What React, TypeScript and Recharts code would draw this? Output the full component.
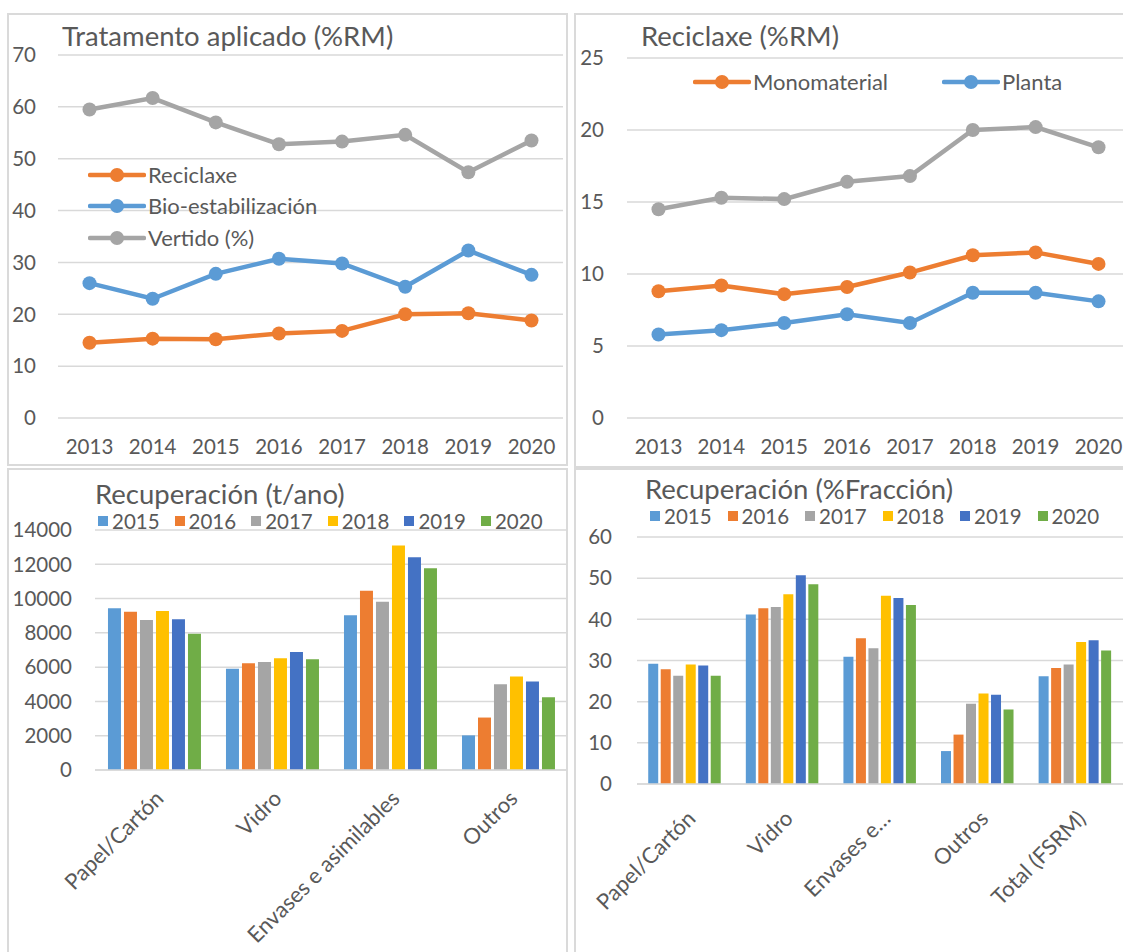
import React from 'react';
import { LineChart, Line, BarChart, Bar, XAxis, YAxis, CartesianGrid, Legend } from 'recharts';

const FONT = 'Lato, "Open Sans", sans-serif';
const TEXT = '#595959';
const GRID = '#D9D9D9';
const ORANGE = '#ED7D31';
const BLUE = '#5B9BD5';
const GREY = '#A5A5A5';

// Tratamento aplicado (%RM)
const years = ['2013', '2014', '2015', '2016', '2017', '2018', '2019', '2020'];
const reciclaxe = [14.5, 15.3, 15.2, 16.3, 16.8, 20.0, 20.2, 18.8];
const bioEstabilizacion = [26.0, 23.0, 27.8, 30.7, 29.8, 25.3, 32.3, 27.6];
const vertido = [59.5, 61.7, 57.0, 52.8, 53.3, 54.6, 47.4, 53.5];
const tratamentoTicks = [0, 10, 20, 30, 40, 50, 60, 70];

// Reciclaxe (%RM)
const reciclaxeTotal = [14.5, 15.3, 15.2, 16.4, 16.8, 20.0, 20.2, 18.8];
const monomaterial = [8.8, 9.2, 8.6, 9.1, 10.1, 11.3, 11.5, 10.7];
const planta = [5.8, 6.1, 6.6, 7.2, 6.6, 8.7, 8.7, 8.1];
const reciclaxeTicks = [0, 5, 10, 15, 20, 25];

// Recuperación
const barYears = ['2015', '2016', '2017', '2018', '2019', '2020'];
const yearColors = ['#5B9BD5', '#ED7D31', '#A5A5A5', '#FFC000', '#4472C4', '#70AD47'];
const fraccions = ['Papel/Cartón', 'Vidro', 'Envases e asimilables', 'Outros'];
const fraccionsPct = [...fraccions, 'Total (FSRM)'];

// t/ano, one array per year, same order as fraccions
const ton2015 = [9440, 5910, 9020, 2020];
const ton2016 = [9230, 6220, 10450, 3060];
const ton2017 = [8750, 6300, 9810, 5000];
const ton2018 = [9270, 6520, 13090, 5450];
const ton2019 = [8800, 6880, 12410, 5160];
const ton2020 = [7950, 6460, 11770, 4250];
const tonByYear = [ton2015, ton2016, ton2017, ton2018, ton2019, ton2020];
const tonTicks = [0, 2000, 4000, 6000, 8000, 10000, 12000, 14000];

// %Fracción, same order as fraccionsPct
const pct2015 = [29.2, 41.2, 30.9, 8.0, 26.2];
const pct2016 = [27.9, 42.7, 35.4, 12.0, 28.2];
const pct2017 = [26.3, 43.0, 33.0, 19.5, 29.0];
const pct2018 = [29.0, 46.1, 45.7, 22.0, 34.5];
const pct2019 = [28.8, 50.7, 45.2, 21.7, 34.9];
const pct2020 = [26.3, 48.5, 43.5, 18.1, 32.4];
const pctByYear = [pct2015, pct2016, pct2017, pct2018, pct2019, pct2020];
const pctTicks = [0, 10, 20, 30, 40, 50, 60];

const tratamentoData = years.map((year, i) => ({
  year,
  reciclaxe: reciclaxe[i],
  bio: bioEstabilizacion[i],
  vertido: vertido[i],
}));

const reciclaxeData = years.map((year, i) => ({
  year,
  total: reciclaxeTotal[i],
  mono: monomaterial[i],
  planta: planta[i],
}));

const buildRows = (names: string[], series: number[][]) =>
  names.map((name, i) => {
    const row: Record<string, string | number> = { name };
    barYears.forEach((y, k) => (row['y' + y] = series[k][i]));
    return row;
  });

const tonData = buildRows(fraccions, tonByYear);
const pctData = buildRows(fraccionsPct, pctByYear);

const tickStyle = { fill: TEXT, fontSize: 20.5, fontFamily: FONT };
const catTick = { fill: TEXT, fontSize: 22, fontFamily: FONT, angle: -45, textAnchor: 'end' };

function Frame({ left, top, width, height }: { left: number; top: number; width: number; height: number }) {
  return (
    <div
      style={{
        position: 'absolute',
        left,
        top,
        width,
        height,
        border: '2px solid #DADADA',
        boxSizing: 'border-box',
      }}
    />
  );
}

function Title({ left, top, children }: { left: number; top: number; children: React.ReactNode }) {
  return (
    <div style={{ position: 'absolute', left, top, fontSize: 27.5, lineHeight: 1, color: TEXT, whiteSpace: 'nowrap' }}>
      {children}
    </div>
  );
}

function LineLegend({ payload, order, vertical, itemWidth }: any) {
  const items = (payload || [])
    .filter((p: any) => p.type !== 'none' && order.includes(p.value))
    .sort((a: any, b: any) => order.indexOf(a.value) - order.indexOf(b.value));
  return (
    <div style={{ display: 'flex', flexDirection: vertical ? 'column' : 'row' }}>
      {items.map((p: any) => (
        <div
          key={p.value}
          style={{ display: 'flex', alignItems: 'center', flexShrink: 0, height: 31.5, width: vertical ? undefined : itemWidth }}
        >
          <svg width={58} height={16}>
            <line x1={2} x2={56} y1={8} y2={8} stroke={p.color} strokeWidth={4.5} strokeLinecap="round" />
            <circle cx={29} cy={8} r={7} fill={p.color} />
          </svg>
          <span style={{ marginLeft: 2, fontSize: 22, lineHeight: '22px', color: TEXT, whiteSpace: 'nowrap' }}>{p.value}</span>
        </div>
      ))}
    </div>
  );
}

function SquareLegend({ payload, pitch }: any) {
  const items = [...(payload || [])].sort((a: any, b: any) => barYears.indexOf(a.value) - barYears.indexOf(b.value));
  return (
    <div style={{ display: 'flex' }}>
      {items.map((p: any) => (
        <div key={p.value} style={{ display: 'flex', alignItems: 'center', flexShrink: 0, width: pitch, height: 22 }}>
          <div style={{ width: 10, height: 10, background: p.color }} />
          <span style={{ marginLeft: 4, fontSize: 20.5, lineHeight: '20px', color: TEXT }}>{p.value}</span>
        </div>
      ))}
    </div>
  );
}

const shortLabel = (v: string) => (v.length > 12 ? v.slice(0, 9) + '…' : v);

export default function App() {
  return (
    <div
      style={{
        position: 'absolute',
        left: 0,
        top: 0,
        width: 1123,
        height: 952,
        overflow: 'hidden',
        background: '#fff',
        fontFamily: FONT,
      }}
    >
      <Frame left={7} top={13} width={561} height={453} />
      <Frame left={574} top={13} width={570} height={455} />
      <Frame left={7} top={468} width={561} height={500} />
      <Frame left={574} top={468} width={570} height={500} />

      {/* Tratamento aplicado */}
      <div style={{ position: 'absolute', left: 0, top: 0 }}>
        <LineChart width={570} height={465} data={tratamentoData} margin={{ top: 55, right: 7, bottom: 0, left: 0 }}>
          <CartesianGrid vertical={false} stroke={GRID} strokeWidth={1.5} />
          <XAxis
            dataKey="year"
            height={47}
            padding={{ left: 31.5, right: 31.5 }}
            axisLine={false}
            tickLine={false}
            tickMargin={15}
            tick={tickStyle}
            interval={0}
          />
          <YAxis width={58} domain={[0, 70]} ticks={tratamentoTicks} axisLine={false} tickLine={false} tickMargin={16} tick={tickStyle} />
          <Legend
            layout="horizontal"
            verticalAlign="middle"
            align="center"
            wrapperStyle={{ left: 88, top: 159, width: 280 }}
            content={(props: any) => (
              <LineLegend payload={props.payload} vertical order={['Reciclaxe', 'Bio-estabilización', 'Vertido (%)']} />
            )}
          />
          <Line dataKey="reciclaxe" name="Reciclaxe" stroke={ORANGE} strokeWidth={4.5} dot={{ r: 7, fill: ORANGE, stroke: 'none' }} isAnimationActive={false} />
          <Line dataKey="bio" name="Bio-estabilización" stroke={BLUE} strokeWidth={4.5} dot={{ r: 7, fill: BLUE, stroke: 'none' }} isAnimationActive={false} />
          <Line dataKey="vertido" name="Vertido (%)" stroke={GREY} strokeWidth={4.5} dot={{ r: 7, fill: GREY, stroke: 'none' }} isAnimationActive={false} />
        </LineChart>
      </div>
      <Title left={62} top={22}>Tratamento aplicado (%RM)</Title>

      {/* Reciclaxe */}
      <div style={{ position: 'absolute', left: 570, top: 0 }}>
        <LineChart width={570} height={465} data={reciclaxeData} margin={{ top: 58, right: 10, bottom: 0, left: 0 }}>
          <CartesianGrid vertical={false} stroke={GRID} strokeWidth={1.5} />
          <XAxis
            dataKey="year"
            height={47}
            padding={{ left: 31.5, right: 31.5 }}
            axisLine={false}
            tickLine={false}
            tickMargin={15}
            tick={tickStyle}
            interval={0}
          />
          <YAxis width={57} domain={[0, 25]} ticks={reciclaxeTicks} axisLine={false} tickLine={false} tickMargin={17} tick={tickStyle} />
          <Legend
            layout="horizontal"
            verticalAlign="middle"
            align="center"
            wrapperStyle={{ left: 123, top: 66, width: 440 }}
            content={(props: any) => <LineLegend payload={props.payload} itemWidth={249} order={['Monomaterial', 'Planta']} />}
          />
          <Line dataKey="total" name="Reciclaxe" legendType="none" stroke={GREY} strokeWidth={4.5} dot={{ r: 7, fill: GREY, stroke: 'none' }} isAnimationActive={false} />
          <Line dataKey="mono" name="Monomaterial" stroke={ORANGE} strokeWidth={4.5} dot={{ r: 7, fill: ORANGE, stroke: 'none' }} isAnimationActive={false} />
          <Line dataKey="planta" name="Planta" stroke={BLUE} strokeWidth={4.5} dot={{ r: 7, fill: BLUE, stroke: 'none' }} isAnimationActive={false} />
        </LineChart>
      </div>
      <Title left={641} top={22}>Reciclaxe (%RM)</Title>

      {/* Recuperación (t/ano) */}
      <div style={{ position: 'absolute', left: 0, top: 468 }}>
        <BarChart
          width={570}
          height={484}
          data={tonData}
          margin={{ top: 62, right: 3, bottom: 0, left: 0 }}
          barCategoryGap="11%"
          barGap={3}
        >
          <CartesianGrid vertical={false} stroke={GRID} strokeWidth={1.5} />
          <XAxis
            dataKey="name"
            height={182}
            axisLine={{ stroke: GRID, strokeWidth: 1.5 }}
            tickLine={false}
            tickMargin={13}
            interval={0}
            tick={catTick}
          />
          <YAxis width={95} domain={[0, 14000]} ticks={tonTicks} axisLine={false} tickLine={false} tickMargin={17} tick={tickStyle} />
          <Legend
            layout="horizontal"
            verticalAlign="middle"
            align="center"
            wrapperStyle={{ left: 98, top: 42, width: 470 }}
            content={(props: any) => <SquareLegend payload={props.payload} pitch={76.6} />}
          />
          {barYears.map((y, k) => (
            <Bar key={y} dataKey={'y' + y} name={y} fill={yearColors[k]} isAnimationActive={false} />
          ))}
        </BarChart>
      </div>
      <Title left={95} top={480}>Recuperación (t/ano)</Title>

      {/* Recuperación (%Fracción) */}
      <div style={{ position: 'absolute', left: 570, top: 468 }}>
        <BarChart
          width={560}
          height={484}
          data={pctData}
          margin={{ top: 69, right: 5, bottom: 0, left: 0 }}
          barCategoryGap="11.5%"
          barGap={2.5}
        >
          <CartesianGrid vertical={false} stroke={GRID} strokeWidth={1.5} />
          <XAxis
            dataKey="name"
            height={168}
            axisLine={{ stroke: GRID, strokeWidth: 1.5 }}
            tickLine={false}
            tickMargin={19}
            interval={0}
            tickFormatter={shortLabel}
            tick={catTick}
          />
          <YAxis width={67} domain={[0, 60]} ticks={pctTicks} axisLine={false} tickLine={false} tickMargin={19} tick={tickStyle} />
          <Legend
            layout="horizontal"
            verticalAlign="middle"
            align="center"
            wrapperStyle={{ left: 80, top: 37, width: 475 }}
            content={(props: any) => <SquareLegend payload={props.payload} pitch={77.5} />}
          />
          {barYears.map((y, k) => (
            <Bar key={y} dataKey={'y' + y} name={y} fill={yearColors[k]} isAnimationActive={false} />
          ))}
        </BarChart>
      </div>
      <Title left={645} top={475}>Recuperación (%Fracción)</Title>
    </div>
  );
}
